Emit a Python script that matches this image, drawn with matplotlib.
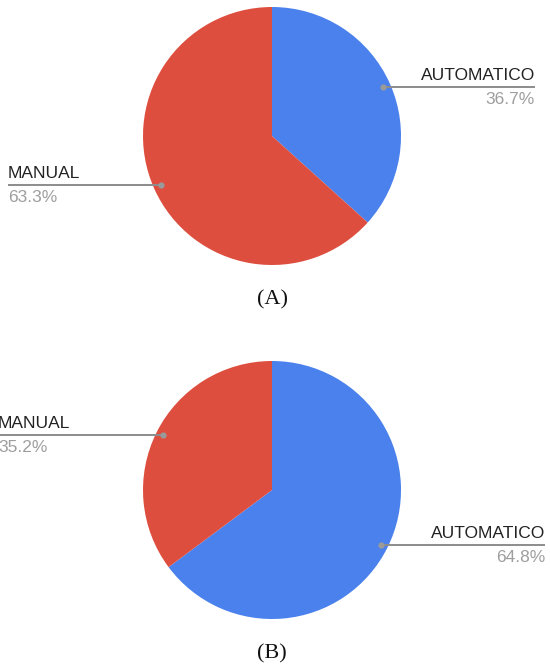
import matplotlib
matplotlib.use("Agg")
import matplotlib.pyplot as plt
import numpy as np

# transmission share, two survey groups
categories = ["AUTOMATICO", "MANUAL"]
values_a = [36.7, 63.3]
values_b = [64.8, 35.2]
panel_titles = ["(A)", "(B)"]

BLUE = "#4a81ec"
RED = "#de4e3f"
W, H = 550, 665

fig = plt.figure(figsize=(W / 100, H / 100), dpi=100)
ax = fig.add_axes([0, 0, 1, 1])

R = 129
centers = [(272, H - 136), (272, H - 490)]
# label anchor: (x end of leader line, text alignment) per category, per panel
label_ends = [
    {"AUTOMATICO": (535, "right"), "MANUAL": (8, "left")},
    {"AUTOMATICO": (545, "right"), "MANUAL": (-2, "left")},
]

for vals, (cx, cy), title, ends in zip([values_a, values_b], centers, panel_titles, label_ends):
    ax.pie(vals, colors=[BLUE, RED], startangle=90, counterclock=False,
           center=(cx, cy), radius=R, wedgeprops=dict(linewidth=0))

    # leader lines from slice middles out to the side labels
    start = 90.0
    for cat, v in zip(categories, vals):
        sweep = v / 100 * 360
        mid = np.deg2rad(start - sweep / 2)
        start -= sweep
        px = cx + 0.945 * R * np.cos(mid)
        py = cy + 0.945 * R * np.sin(mid)
        xe, ha = ends[cat]
        ax.plot([px, xe], [py, py], color="#8c8c8c", lw=1.4, solid_capstyle="butt", zorder=3)
        ax.plot(px, py, "o", color="#9a9a9a", ms=4.5, mec="none", zorder=4)
        ax.text(xe, py + 4, cat, ha=ha, va="bottom", fontsize=12.5,
                family="Liberation Sans", color="#222222")
        ax.text(xe, py - 5, "%.1f%%" % v, ha=ha, va="top", fontsize=12.5,
                family="Liberation Sans", color="#9e9e9e")

    ax.text(cx, cy - R - 35, title, ha="center", va="center", fontsize=16,
            family="Liberation Serif", color="#111111")

ax.set_xlim(0, W)
ax.set_ylim(0, H)
ax.set_aspect("equal")
ax.axis("off")

fig.savefig("out.png", dpi=100, facecolor="white")
